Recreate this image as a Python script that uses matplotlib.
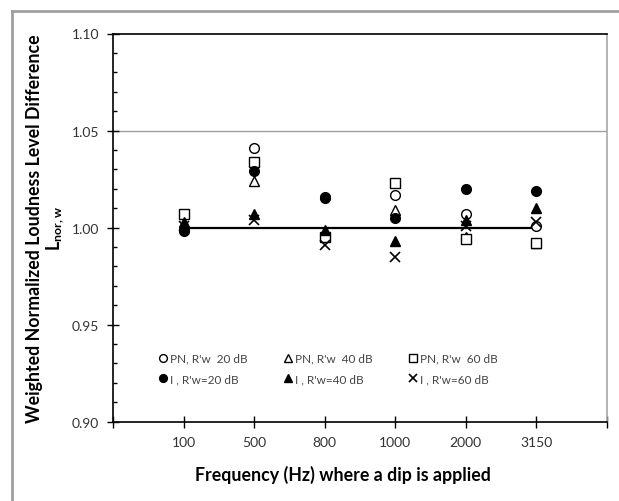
import numpy as np
import matplotlib
matplotlib.use("Agg")
import matplotlib.pyplot as plt
from matplotlib.lines import Line2D
from matplotlib.ticker import MultipleLocator, FormatStrFormatter

plt.rcParams['font.family'] = ['Lato', 'DejaVu Sans']
plt.rcParams['mathtext.fontset'] = 'custom'
plt.rcParams['mathtext.rm'] = 'Lato'
plt.rcParams['mathtext.bf'] = 'Lato:bold'
plt.rcParams['mathtext.it'] = 'Lato:italic'

# frequencies where the dip is applied
freqs = ['100', '500', '800', '1000', '2000', '3150']

# weighted normalized loudness level difference
pn_20 = [0.999, 1.041, 1.016, 1.017, 1.007, 1.001]
pn_40 = [1.002, 1.024, 0.997, 1.009, 0.995, 0.992]
pn_60 = [1.007, 1.034, 0.995, 1.023, 0.994, 0.992]
i_20 = [0.998, 1.029, 1.015, 1.005, 1.020, 1.019]
i_40 = [1.003, 1.007, 0.999, 0.993, 1.004, 1.010]
i_60 = [1.001, 1.004, 0.991, 0.985, 1.001, 1.003]

labels = ["PN, R'w  20 dB", "PN, R'w  40 dB", "PN, R'w  60 dB",
          "I , R'w=20 dB", "I , R'w=40 dB", "I , R'w=60 dB"]

fig = plt.figure(figsize=(6.19, 5.02), dpi=100)
ax = fig.add_axes([113/619, 1 - 422.7/502, (607-113)/619, (422.7-34.5)/502])

x = np.arange(1, len(freqs) + 1)

# reference line at 1.00
ax.plot([x[0], x[-1]], [1.0, 1.0], color='black', lw=1.6, zorder=2)
ax.axhline(1.05, color='#a0a0a0', lw=1.0, zorder=1)

ms = 7
h = {}
h[0], = ax.plot(x, pn_20, 'o', ms=ms, mfc='white', mec='black', mew=1.0, ls='none', zorder=3)
h[1], = ax.plot(x, pn_40, '^', ms=ms, mfc='white', mec='black', mew=1.0, ls='none', zorder=3)
h[2], = ax.plot(x, pn_60, 's', ms=ms, mfc='white', mec='black', mew=1.0, ls='none', zorder=3)
h[3], = ax.plot(x, i_20, 'o', ms=ms, mfc='black', mec='black', ls='none', zorder=4)
h[4], = ax.plot(x, i_40, '^', ms=ms, mfc='black', mec='black', ls='none', zorder=4)
h[5], = ax.plot(x, i_60, 'x', ms=ms, mec='black', mew=1.2, ls='none', zorder=4)

ax.set_xlim(0, 7)
ax.set_ylim(0.90, 1.10)
ax.set_xticks(range(0, 8))
ax.set_xticklabels([''] + freqs + [''])
ax.yaxis.set_major_locator(MultipleLocator(0.05))
ax.yaxis.set_minor_locator(MultipleLocator(0.01))
ax.yaxis.set_major_formatter(FormatStrFormatter('%.2f'))

ax.tick_params(axis='both', which='major', direction='inout', length=8, width=1.0,
               labelsize=10, labelcolor='#333333', pad=6)
ax.tick_params(axis='y', which='minor', direction='in', length=3, width=1.0)

for s in ['left', 'bottom', 'top']:
    ax.spines[s].set_color('black')
    ax.spines[s].set_linewidth(1.2)
ax.spines['right'].set_color('#a8a8a8')
ax.spines['right'].set_linewidth(1.2)

ax.set_xlabel('Frequency (Hz) where a dip is applied', fontsize=12.8, fontweight='bold',
              labelpad=11)
ax.xaxis.set_label_coords(0.466, -0.112)
ax.set_ylabel('Weighted Normalized Loudness Level Difference\n' + r'$\mathbf{L}_{\mathbf{nor,w}}$',
              fontsize=12.8, fontweight='bold', labelpad=4, linespacing=1.1)

order = [0, 3, 1, 4, 2, 5]
leg = ax.legend([h[k] for k in order], [labels[k] for k in order], ncol=3,
                loc='center', bbox_to_anchor=(0.435, 0.137), frameon=False,
                fontsize=8.5, markerscale=0.8, handlelength=0.8, handletextpad=0.2,
                columnspacing=3.0, labelspacing=0.8)
for t in leg.get_texts():
    t.set_color('#444444')

# outer frame (left and top edges visible)
fig.add_artist(Line2D([12/619, 12/619], [0, 1 - 12/502], transform=fig.transFigure,
                      color='#a0a0a0', lw=2))
fig.add_artist(Line2D([12/619, 1], [1 - 12/502, 1 - 12/502], transform=fig.transFigure,
                      color='#a0a0a0', lw=2))

fig.savefig('out.png', dpi=100)
